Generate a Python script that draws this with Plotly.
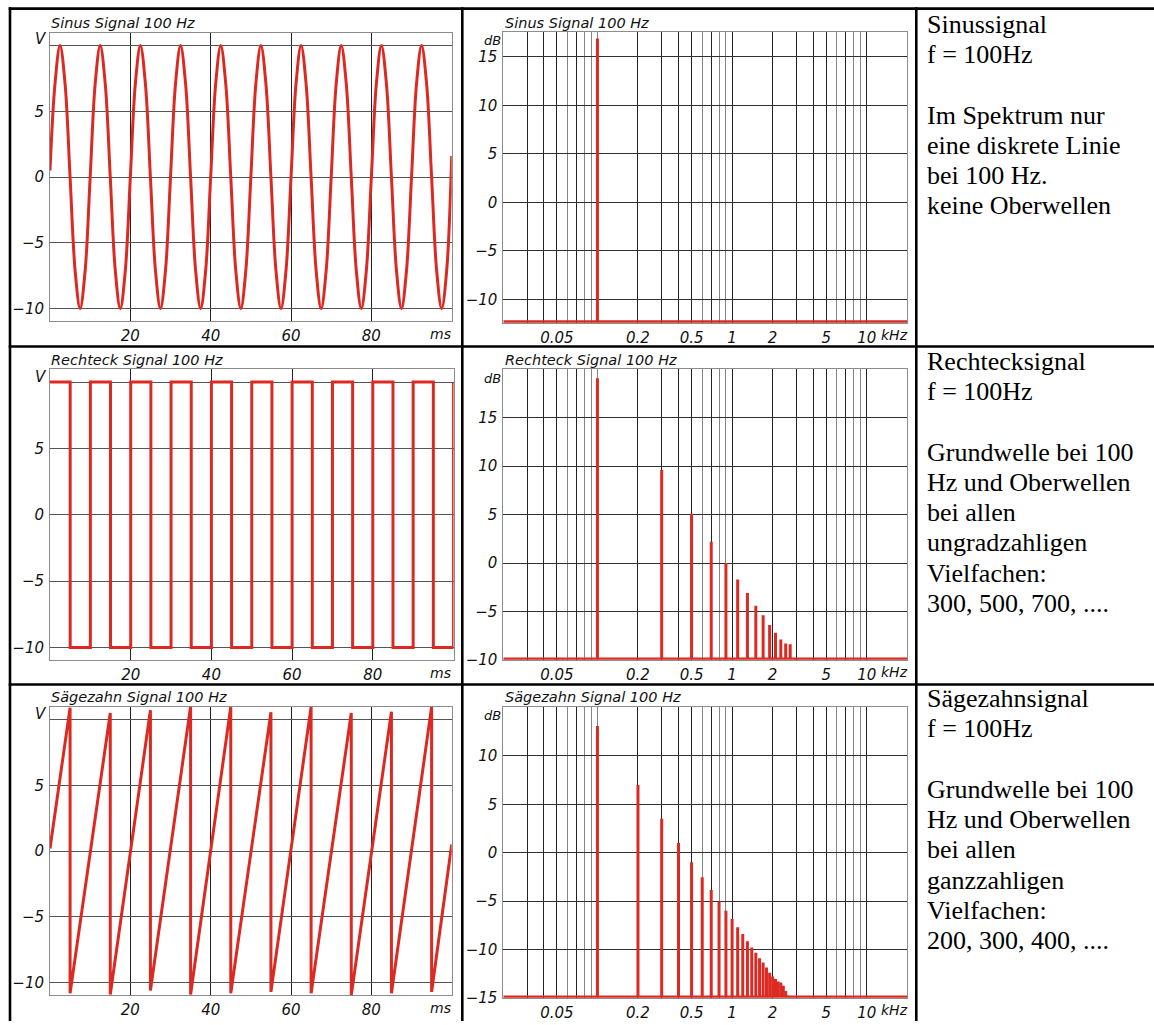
import plotly.graph_objects as go

# ---------------- data ----------------
# time axis (ms) and signal values (V)
SINE_T = [0, 1.25, 2.5, 3.75, 5, 6.25, 7.5, 8.75,
          10, 11.25, 12.5, 13.75, 15, 16.25, 17.5, 18.75,
          20, 21.25, 22.5, 23.75, 25, 26.25, 27.5, 28.75,
          30, 31.25, 32.5, 33.75, 35, 36.25, 37.5, 38.75,
          40, 41.25, 42.5, 43.75, 45, 46.25, 47.5, 48.75,
          50, 51.25, 52.5, 53.75, 55, 56.25, 57.5, 58.75,
          60, 61.25, 62.5, 63.75, 65, 66.25, 67.5, 68.75,
          70, 71.25, 72.5, 73.75, 75, 76.25, 77.5, 78.75,
          80, 81.25, 82.5, 83.75, 85, 86.25, 87.5, 88.75,
          90, 91.25, 92.5, 93.75, 95, 96.25, 97.5, 98.75,
          100]
SINE_V = [0.5, 7.1, 10, 7.1, 0, -7.1, -10, -7.1,
          0, 7.1, 10, 7.1, 0, -7.1, -10, -7.1,
          0, 7.1, 10, 7.1, 0, -7.1, -10, -7.1,
          0, 7.1, 10, 7.1, 0, -7.1, -10, -7.1,
          0, 7.1, 10, 7.1, 0, -7.1, -10, -7.1,
          0, 7.1, 10, 7.1, 0, -7.1, -10, -7.1,
          0, 7.1, 10, 7.1, 0, -7.1, -10, -7.1,
          0, 7.1, 10, 7.1, 0, -7.1, -10, -7.1,
          0, 7.1, 10, 7.1, 0, -7.1, -10, -7.1,
          0, 7.1, 10, 7.1, 0, -7.1, -10, -7.1,
          1.6]

SQUARE_T = [0, 5, 10, 15, 20, 25, 30, 35, 40, 45, 50,
            55, 60, 65, 70, 75, 80, 85, 90, 95, 100]
SQUARE_V = [10, -10, 10, -10, 10, -10, 10, -10, 10, -10, 10,
            -10, 10, -10, 10, -10, 10, -10, 10, -10, 10]

SAW_T = [0, 5, 5, 15, 15, 25, 25, 35, 35, 45, 45,
         55, 55, 65, 65, 75, 75, 85, 85, 95, 95, 100]
SAW_V = [0.2, 10.9, -10.8, 10.5, -10.9, 10.7, -10.6, 11.0, -10.9, 10.97, -10.8,
         10.55, -10.7, 10.97, -10.8, 10.5, -10.95, 10.6, -10.8, 10.97, -10.7, 0.5]

# spectra: frequency (kHz) and level (dB)
SIN_F = [0.1]
SIN_DB = [16.9]
SIN_FLOOR = -12.3

RECT_F = [0.1, 0.3, 0.5, 0.7, 0.9, 1.1, 1.3, 1.5, 1.7, 1.9, 2.1, 2.3, 2.5, 2.7]
RECT_DB = [19.1, 9.6, 5.1, 2.2, 0.0, -1.7, -3.1, -4.4, -5.4, -6.4, -7.2, -7.9, -8.3, -8.4]
RECT_FLOOR = -9.9

SAW_F = [0.1, 0.2, 0.3, 0.4, 0.5, 0.6, 0.7, 0.8, 0.9, 1.0, 1.1, 1.2, 1.3,
         1.4, 1.5, 1.6, 1.7, 1.8, 1.9, 2.0, 2.1, 2.2, 2.3, 2.4, 2.5, 2.6]
SAW_DB = [13.1, 7.0, 3.5, 1.0, -1.0, -2.55, -3.85, -5.05, -6.0, -6.85, -7.7, -8.4, -9.15,
          -9.8, -10.35, -10.9, -11.35, -11.85, -12.4, -12.8, -13.05, -13.3, -13.4, -13.75, -14.3, -14.75]
SAW_FLOOR = -14.9

TITLES_TIME = ["Sinus Signal 100 Hz", "Rechteck Signal 100 Hz", "Sägezahn Signal 100 Hz"]
TITLES_SPEC = ["Sinus Signal 100 Hz", "Rechteck Signal 100 Hz", "Sägezahn Signal 100 Hz"]

TIME_XTICKS = [20, 40, 60, 80]
TIME_YTICKS = [-10, -5, 0, 5, 10]
TIME_YTEXT = ["\u221210", "\u22125", "0", "5", ""]

SPEC_MAJOR = [0.03, 0.04, 0.05, 0.07, 0.2, 0.3, 0.4, 0.5, 0.7, 1, 2, 3, 4, 5, 7, 10]
SPEC_MAJOR_TEXT = ["", "", "0.05", "", "0.2", "", "", "0.5", "", "1", "2", "", "", "5", "", "10"]
SPEC_MINOR = [0.06, 0.08, 0.09, 0.1, 0.6, 0.8, 0.9, 6, 8, 9]

SPEC_YTICKS = [[-10, -5, 0, 5, 10, 15], [-10, -5, 0, 5, 10, 15], [-15, -10, -5, 0, 5, 10]]
SPEC_YRANGES = [[-12.42, 17.52], [-10, 20], [-15, 15.05]]

TEXTS = [
    ["Sinussignal", "f = 100Hz", "", "Im Spektrum nur", "eine diskrete Linie",
     "bei 100 Hz.", "keine Oberwellen"],
    ["Rechtecksignal", "f = 100Hz", "", "Grundwelle bei 100", "Hz und Oberwellen",
     "bei allen", "ungradzahligen", "Vielfachen:", "300, 500, 700, ...."],
    ["Sägezahnsignal", "f = 100Hz", "", "Grundwelle bei 100", "Hz und Oberwellen",
     "bei allen", "ganzzahligen", "Vielfachen:", "200, 300, 400, ...."],
]

# ---------------- layout geometry (pixels) ----------------
W, H = 1154, 1025
def fx(p):
    return p / W
def fy(p):
    return 1 - p / H

RED = "#dc2a22"
DARK = "#222222"
GRAY = "#858585"
FRAME = "#8c8c8c"
LBL = "#111111"
SANS = "DejaVu Sans"
SERIF = "Liberation Serif"

TIME_X = [(50, 451.7), (50, 453.5), (50, 451.7)]
TIME_Y = [(33.3, 324), (372.7, 666), (713.3, 1004)]
SPEC_X = (503.3, 907.3)
SPEC_Y = [(32.7, 325.7), (372.7, 665.7), (713.3, 1006.7)]
ROW_TOP = [0, 340.5, 680.5]

tickfont = dict(family=SANS, size=15, color=LBL, style="italic")
titlefont = dict(family=SANS, size=14.5, color=LBL, style="italic")
unitfont = dict(family=SANS, size=14, color=LBL, style="italic")

fig = go.Figure()
layout = dict(width=W, height=H, margin=dict(l=0, r=0, t=0, b=0),
              paper_bgcolor="white", plot_bgcolor="white", showlegend=False)

def axname(kind, i):
    return kind + "axis" + ("" if i == 1 else str(i))

def ref(kind, i):
    return kind + ("" if i == 1 else str(i))

time_series = [(SINE_T, SINE_V, "spline"), (SQUARE_T, SQUARE_V, "hv"), (SAW_T, SAW_V, "linear")]
spec_series = [(SIN_F, SIN_DB, SIN_FLOOR), (RECT_F, RECT_DB, RECT_FLOOR), (SAW_F, SAW_DB, SAW_FLOOR)]

annotations = []
for r in range(3):
    ti, si = 2 * r + 1, 2 * r + 2
    # ---- time plot ----
    (x0, x1), (yt, yb) = TIME_X[r], TIME_Y[r]
    layout[axname("x", ti)] = dict(
        domain=[fx(x0), fx(x1)], range=[0, 100], anchor=ref("y", ti),
        tickmode="array", tickvals=TIME_XTICKS, ticks="", tickfont=tickfont,
        showgrid=True, gridcolor=DARK, gridwidth=1, zeroline=False,
        showline=True, mirror=True, linecolor=FRAME, linewidth=1, ticklabelstandoff=1)
    layout[axname("y", ti)] = dict(
        domain=[fy(yb), fy(yt)], range=[-10.95, 10.95], anchor=ref("x", ti),
        tickmode="array", tickvals=TIME_YTICKS, ticktext=TIME_YTEXT, ticks="",
        tickfont=tickfont, showgrid=True, gridcolor="#555555", gridwidth=1, zeroline=False,
        showline=True, mirror=True, linecolor=FRAME, linewidth=1, ticklabelstandoff=2)
    tx, tv, shape = time_series[r]
    line = dict(color=RED, width=3, shape=shape)
    if shape == "spline":
        line["smoothing"] = 1.0
    fig.add_trace(go.Scatter(x=tx, y=tv, mode="lines", line=line,
                             xaxis=ref("x", ti), yaxis=ref("y", ti), hoverinfo="skip"))

    # ---- spectrum ----
    (sy_t, sy_b) = SPEC_Y[r]
    yr = SPEC_YRANGES[r]
    layout[axname("x", si)] = dict(
        domain=[fx(SPEC_X[0]), fx(SPEC_X[1])], type="log", range=[-1.69897, 1.30103],
        anchor=ref("y", si), tickmode="array", tickvals=SPEC_MAJOR, ticktext=SPEC_MAJOR_TEXT,
        ticks="", tickfont=tickfont, showgrid=True, gridcolor=DARK, gridwidth=1,
        minor=dict(tickmode="array", tickvals=SPEC_MINOR, showgrid=True, gridcolor=GRAY,
                   gridwidth=1, ticks=""),
        zeroline=False, showline=True, mirror=True, linecolor=FRAME, linewidth=1,
        ticklabelstandoff=1)
    ytxt = [("\u2212" + str(-v)) if v < 0 else str(v) for v in SPEC_YTICKS[r]]
    layout[axname("y", si)] = dict(
        domain=[fy(sy_b), fy(sy_t)], range=yr, anchor=ref("x", si),
        tickmode="array", tickvals=SPEC_YTICKS[r], ticktext=ytxt, ticks="",
        tickfont=tickfont, showgrid=True, gridcolor="#303030", gridwidth=1, zeroline=False,
        showline=True, mirror=True, linecolor=FRAME, linewidth=1, ticklabelstandoff=2)
    F, DB, floor = spec_series[r]
    xs, ys = [], []
    for f, d in zip(F, DB):
        xs += [f, f, None]
        ys += [floor, d, None]
    fig.add_trace(go.Scatter(x=[0.02, 20], y=[floor, floor], mode="lines",
                             line=dict(color=RED, width=3),
                             xaxis=ref("x", si), yaxis=ref("y", si), hoverinfo="skip"))
    fig.add_trace(go.Scatter(x=xs, y=ys, mode="lines", line=dict(color=RED, width=3),
                             xaxis=ref("x", si), yaxis=ref("y", si), hoverinfo="skip"))

    # ---- labels ----
    top = ROW_TOP[r]
    annotations.append(dict(text=TITLES_TIME[r], x=fx(48.5), y=fy(top + 22.7), xref="paper",
                            yref="paper", xanchor="left", yanchor="middle", showarrow=False,
                            font=titlefont))
    annotations.append(dict(text=TITLES_SPEC[r], x=fx(502.5), y=fy(top + 22.7), xref="paper",
                            yref="paper", xanchor="left", yanchor="middle", showarrow=False,
                            font=titlefont))
    annotations.append(dict(text="V", x=fx(49), y=fy(top + 39.5), xref="paper", yref="paper",
                            xanchor="right", yanchor="middle", showarrow=False, font=tickfont))
    annotations.append(dict(text="dB", x=fx(503), y=fy(top + 41), xref="paper", yref="paper",
                            xanchor="right", yanchor="middle", showarrow=False,
                            font=dict(family=SANS, size=13, color=LBL, style="italic")))
    annotations.append(dict(text="ms", x=fx(452.5), y=fy(yb + 12.5), xref="paper", yref="paper",
                            xanchor="right", yanchor="middle", showarrow=False, font=unitfont))
    annotations.append(dict(text="kHz", x=fx(879), y=fy(sy_b + 12), xref="paper", yref="paper",
                            xanchor="left", yanchor="middle", showarrow=False, font=unitfont))

    # ---- description text ----
    base0 = [33.3, 373.3, 713.3][r]
    for i, line_txt in enumerate(TEXTS[r]):
        if not line_txt:
            continue
        baseline = base0 + i * 30.55
        annotations.append(dict(text=line_txt, x=fx(925.5), y=fy(baseline - 8.8),
                                xref="paper", yref="paper", xanchor="left", yanchor="middle",
                                showarrow=False, borderpad=0,
                                font=dict(family=SERIF, size=26, color="black")))

layout["annotations"] = annotations

# table borders
BW = 2.6
shapes = []
def hline(y, xa, xb):
    shapes.append(dict(type="line", xref="paper", yref="paper", x0=fx(xa), x1=fx(xb),
                       y0=fy(y), y1=fy(y), line=dict(color="black", width=BW)))
def vline(x, ya, yb):
    shapes.append(dict(type="line", xref="paper", yref="paper", x0=fx(x), x1=fx(x),
                       y0=fy(ya), y1=fy(yb), line=dict(color="black", width=BW)))
hline(8.7, 8.7, 1160)
hline(349.5, 8.7, 1160)
hline(690.5, 8.7, 1160)
vline(10, 7.4, 1030)
vline(462.3, 7.4, 1030)
vline(916.3, 7.4, 1030)
layout["shapes"] = shapes

fig.update_layout(**layout)
fig.write_html(
    "out.html",
    config={"displayModeBar": False, "staticPlot": True},
    post_script="document.documentElement.style.margin='0';"
                "document.body.style.margin='0';document.body.style.padding='0';"
                "document.body.style.overflow='hidden';",
)
